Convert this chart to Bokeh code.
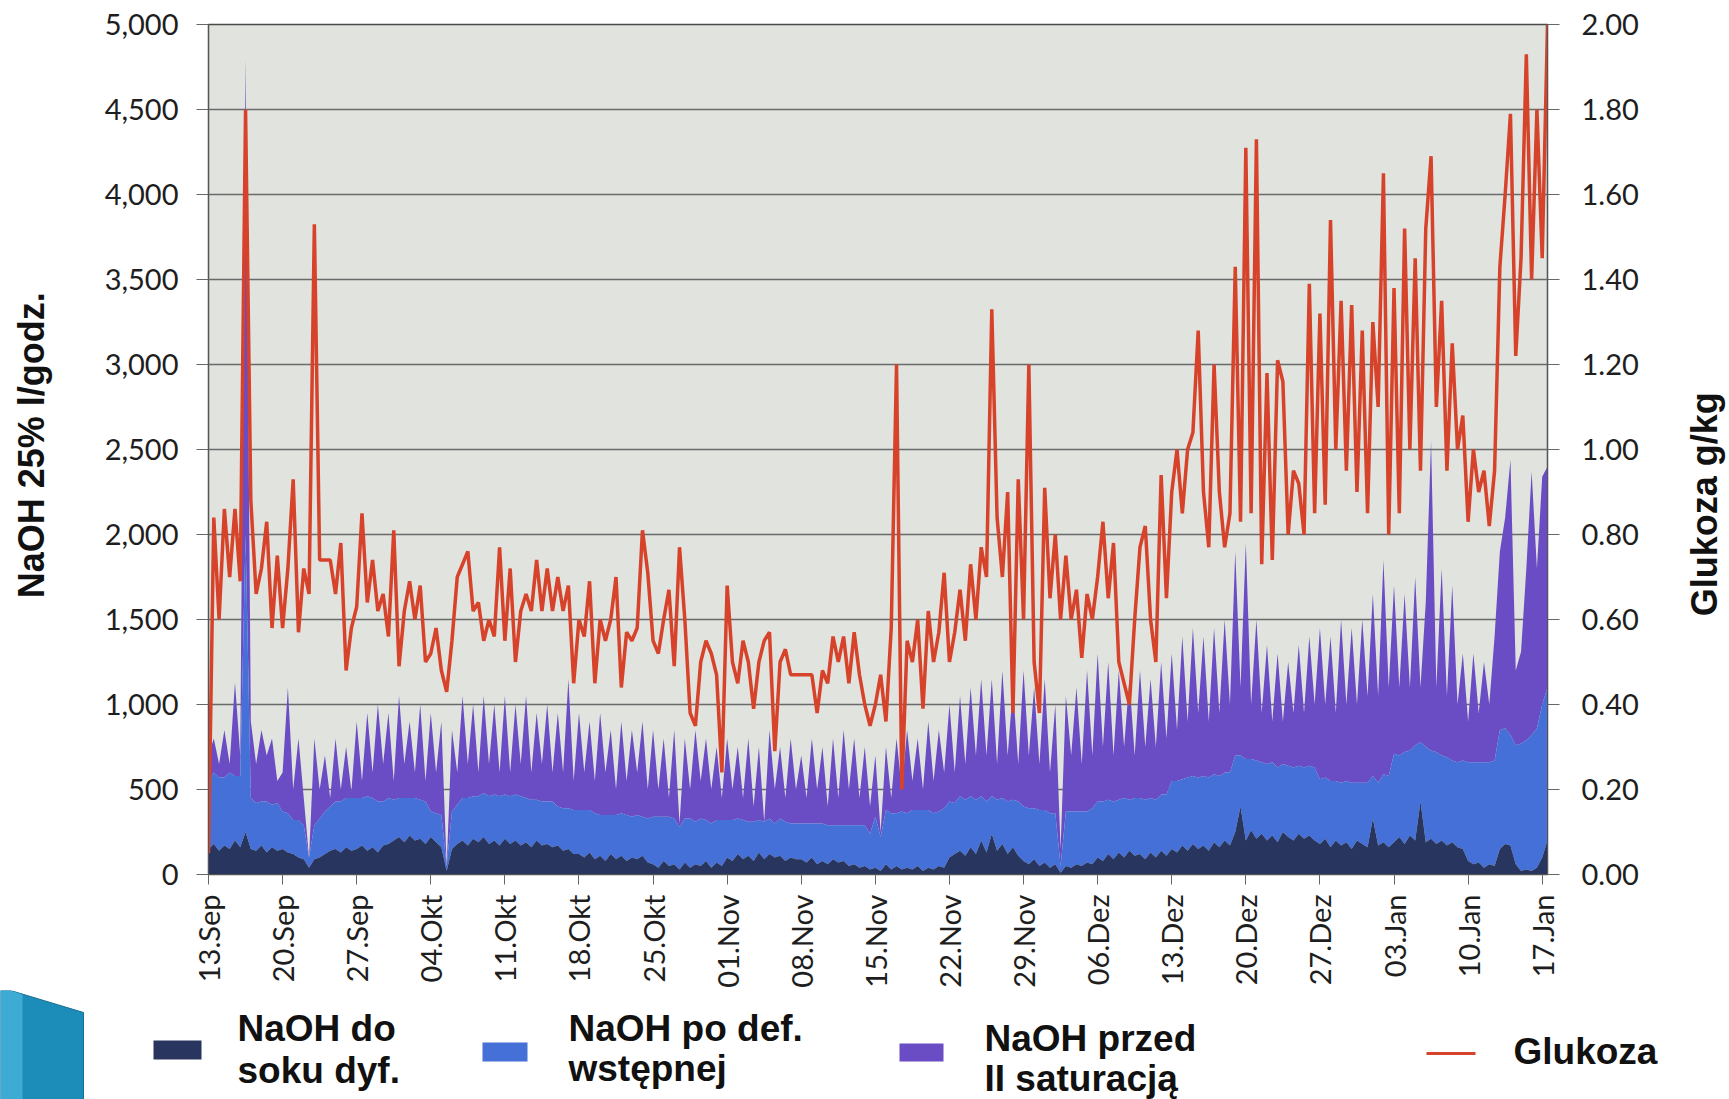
import numpy as np
from math import pi
from bokeh.plotting import figure
from bokeh.models import Range1d, LinearAxis, FixedTicker, NumeralTickFormatter
from bokeh.layouts import column, row
from bokeh.embed import file_html
from bokeh.resources import INLINE
from bokeh.core.properties import value

# ---------------- data (half-day samples starting 13.Sep) ----------------
tick_days = [0, 7, 14, 21, 28, 35, 42, 49, 56, 63, 70, 77, 84, 91, 98, 105, 112, 119, 126]
tick_labels = ["13.Sep", "20.Sep", "27.Sep", "04.Okt", "11.Okt", "18.Okt", "25.Okt",
               "01.Nov", "08.Nov", "15.Nov", "22.Nov", "29.Nov", "06.Dez", "13.Dez",
               "20.Dez", "27.Dez", "03.Jan", "10.Jan", "17.Jan"]

# Glukoza g/kg (right axis)
glukoza = [
    0.05, 0.84, 0.60, 0.86, 0.70, 0.86, 0.69, 1.80, 0.88, 0.66, 0.72, 0.83, 0.58, 0.75,
    0.58, 0.72, 0.93, 0.57, 0.72, 0.66, 1.53, 0.74, 0.74, 0.74, 0.66, 0.78, 0.48, 0.58,
    0.63, 0.85, 0.64, 0.74, 0.62, 0.66, 0.56, 0.81, 0.49, 0.62, 0.69, 0.60, 0.68, 0.50,
    0.52, 0.58, 0.48, 0.43, 0.55, 0.70, 0.73, 0.76, 0.62, 0.64, 0.55, 0.60, 0.56, 0.77,
    0.55, 0.72, 0.50, 0.62, 0.66, 0.62, 0.74, 0.62, 0.72, 0.62, 0.70, 0.62, 0.68, 0.45,
    0.60, 0.56, 0.69, 0.45, 0.60, 0.55, 0.60, 0.70, 0.44, 0.57, 0.55, 0.58, 0.81, 0.71,
    0.55, 0.52, 0.60, 0.67, 0.49, 0.77, 0.60, 0.38, 0.35, 0.50, 0.55, 0.52, 0.47, 0.24,
    0.68, 0.50, 0.45, 0.55, 0.50, 0.39, 0.50, 0.55, 0.57, 0.29, 0.50, 0.53, 0.47, 0.47,
    0.47, 0.47, 0.47, 0.38, 0.48, 0.45, 0.56, 0.50, 0.56, 0.45, 0.57, 0.47, 0.40, 0.35,
    0.40, 0.47, 0.36, 0.58, 1.20, 0.20, 0.55, 0.50, 0.60, 0.39, 0.62, 0.50, 0.57, 0.71,
    0.50, 0.57, 0.67, 0.55, 0.73, 0.60, 0.77, 0.70, 1.33, 0.84, 0.70, 0.90, 0.38, 0.93,
    0.60, 1.20, 0.50, 0.38, 0.91, 0.65, 0.80, 0.60, 0.75, 0.60, 0.67, 0.51, 0.66, 0.60,
    0.70, 0.83, 0.65, 0.78, 0.50, 0.45, 0.40, 0.60, 0.77, 0.82, 0.60, 0.50, 0.94, 0.65,
    0.90, 1.00, 0.85, 1.00, 1.04, 1.28, 0.90, 0.77, 1.20, 0.90, 0.77, 0.85, 1.43, 0.83,
    1.71, 0.85, 1.73, 0.73, 1.18, 0.74, 1.21, 1.16, 0.80, 0.95, 0.92, 0.80, 1.39, 0.85,
    1.32, 0.87, 1.54, 1.00, 1.35, 0.95, 1.34, 0.90, 1.28, 0.85, 1.30, 1.10, 1.65, 0.80,
    1.38, 0.85, 1.52, 1.00, 1.45, 0.95, 1.52, 1.69, 1.10, 1.35, 0.95, 1.25, 1.00, 1.08,
    0.83, 1.00, 0.90, 0.95, 0.82, 0.95, 1.43, 1.60, 1.79, 1.22, 1.45, 1.93, 1.40, 1.80,
    1.45, 2.00,
]

# NaOH do soku dyf. (l/godz.)
naoh_dyf = [
    150, 180, 140, 170, 150, 200, 160, 250, 150, 140, 170, 130, 160, 140,
    150, 130, 120, 100, 90, 40, 90, 100, 120, 140, 150, 130, 160, 140,
    150, 170, 140, 160, 130, 170, 180, 200, 220, 190, 230, 200, 210, 180,
    220, 190, 160, 20, 150, 180, 200, 170, 210, 190, 220, 180, 200, 170,
    210, 180, 200, 170, 190, 160, 200, 170, 180, 160, 170, 140, 150, 120,
    120, 100, 130, 90, 110, 80, 120, 90, 110, 80, 100, 90, 110, 70,
    60, 40, 80, 50, 60, 30, 70, 40, 60, 50, 80, 40, 70, 50,
    100, 80, 120, 90, 110, 80, 130, 90, 120, 100, 110, 80, 100, 90,
    90, 70, 100, 60, 80, 60, 90, 70, 80, 50, 60, 40, 50, 30,
    40, 20, 60, 30, 50, 30, 40, 30, 50, 20, 40, 30, 50, 40,
    100, 120, 140, 110, 160, 120, 200, 130, 240, 140, 180, 120, 160, 110,
    80, 60, 90, 50, 70, 40, 60, 10, 50, 40, 60, 50, 70, 60,
    100, 80, 120, 90, 130, 100, 140, 110, 120, 90, 130, 100, 140, 110,
    150, 130, 170, 140, 180, 150, 170, 140, 190, 160, 200, 170, 250, 400,
    200, 260, 210, 240, 200, 230, 190, 250, 220, 200, 240, 210, 230, 200,
    180, 210, 160, 200, 170, 190, 150, 200, 180, 160, 330, 170, 190, 160,
    190, 220, 180, 230, 200, 430, 190, 210, 180, 200, 170, 190, 160, 150,
    80, 60, 70, 40, 60, 50, 150, 180, 170, 60, 20, 30, 20, 40,
    100, 200,
]

# NaOH po def. wstępnej (l/godz.)
naoh_wst = [
    400, 420, 430, 400, 450, 380, 420, 1750, 300, 280, 260, 300, 250, 280,
    220, 230, 200, 220, 200, 60, 200, 230, 250, 260, 280, 300, 290, 310,
    300, 280, 320, 290, 300, 260, 270, 240, 230, 260, 220, 250, 230, 250,
    150, 170, 190, 30, 220, 230, 250, 280, 250, 270, 260, 280, 270, 290,
    260, 280, 270, 290, 260, 280, 240, 260, 250, 270, 230, 250, 240, 260,
    260, 280, 250, 270, 240, 270, 230, 260, 250, 270, 240, 260, 230, 260,
    280, 300, 260, 290, 270, 250, 260, 290, 250, 280, 240, 260, 250, 270,
    220, 240, 210, 230, 200, 230, 190, 220, 210, 200, 220, 230, 200, 210,
    210, 230, 200, 240, 220, 230, 200, 220, 210, 240, 230, 250, 240, 210,
    300, 200, 320, 330, 310, 340, 320, 350, 330, 360, 340, 330, 320, 350,
    330, 300, 320, 330, 300, 320, 260, 300, 220, 300, 270, 310, 280, 320,
    320, 330, 300, 330, 310, 320, 300, 40, 320, 330, 310, 320, 300, 330,
    330, 350, 320, 340, 310, 350, 300, 340, 330, 350, 320, 340, 330, 360,
    400, 420, 390, 430, 400, 420, 410, 430, 400, 420, 400, 430, 450, 300,
    480, 420, 460, 420, 450, 430, 440, 400, 420, 430, 400, 420, 410, 430,
    380, 360, 390, 350, 370, 360, 390, 340, 360, 380, 250, 370, 400, 420,
    520, 480, 540, 500, 560, 350, 560, 520, 540, 500, 520, 480, 500, 520,
    580, 600, 590, 620, 600, 620, 700, 680, 650, 700, 750, 760, 800, 820,
    900, 900,
]

# NaOH przed II saturacją (l/godz.)
naoh_sat = [
    150, 200, 80, 280, 50, 550, 120, 2800, 450, 230, 420, 270, 390, 130,
    230, 740, 180, 480, 160, 0, 510, 170, 330, 50, 370, 70, 300, 40,
    450, 100, 490, 150, 570, 220, 500, 110, 600, 200, 450, 150, 560, 120,
    580, 240, 550, 0, 480, 190, 600, 200, 540, 140, 570, 190, 530, 140,
    580, 140, 530, 190, 600, 160, 510, 220, 570, 170, 550, 210, 760, 170,
    570, 220, 520, 190, 600, 250, 500, 150, 540, 200, 510, 250, 560, 170,
    510, 160, 460, 110, 520, 20, 470, 170, 540, 220, 480, 200, 430, 130,
    480, 180, 420, 130, 490, 90, 430, 0, 520, 200, 420, 140, 500, 200,
    400, 150, 500, 200, 450, 110, 510, 160, 560, 210, 510, 160, 460, 160,
    360, 30, 370, 90, 440, 130, 490, 170, 420, 120, 520, 190, 480, 210,
    570, 180, 590, 210, 640, 260, 690, 270, 690, 210, 750, 270, 660, 220,
    800, 310, 710, 270, 770, 240, 640, 100, 680, 330, 730, 280, 830, 310,
    870, 320, 810, 270, 760, 300, 710, 250, 750, 310, 700, 310, 780, 330,
    750, 300, 840, 330, 870, 380, 820, 330, 860, 370, 900, 400, 1200, 400,
    1270, 320, 830, 290, 700, 240, 670, 250, 610, 320, 710, 320, 760, 370,
    890, 430, 850, 400, 960, 450, 910, 460, 960, 510, 1070, 510, 1260, 520,
    990, 400, 930, 370, 990, 320, 850, 1820, 380, 1100, 360, 1030, 340, 630,
    240, 640, 290, 590, 340, 730, 1050, 1240, 1620, 440, 540, 1010, 1550, 940,
    1340, 1300,
]

legend_lines = [("NaOH do", "soku dyf."), ("NaOH po def.", "wstępnej"),
                ("NaOH przed", "II saturacją"), ("Glukoza",)]
left_title = "NaOH 25% l/godz."
right_title = "Glukoza  g/kg"
left_ticks = [0, 500, 1000, 1500, 2000, 2500, 3000, 3500, 4000, 4500, 5000]
right_ticks = [0.0, 0.2, 0.4, 0.6, 0.8, 1.0, 1.2, 1.4, 1.6, 1.8, 2.0]

# ---------------- styling ----------------
C_DARK = "#28365f"
C_BLUE = "#4570d8"
C_PURPLE = "#6a4cc4"
C_RED = "#d6432a"
TICK_FONT = "Lato"
BOLD_FONT = "Liberation Sans"
MAIN_H = 990

day = np.arange(len(glukoza)) * 0.5
lvl1 = np.array(naoh_dyf, dtype=float)
lvl2 = lvl1 + np.array(naoh_wst, dtype=float)
lvl3 = lvl2 + np.array(naoh_sat, dtype=float)

p = figure(width=1610, height=MAIN_H, output_backend="svg", toolbar_location=None,
           x_range=Range1d(0, 126.5), y_range=Range1d(0, 5000),
           min_border_left=146, min_border_right=125, min_border_top=24, min_border_bottom=113)
p.extra_y_ranges = {"glu": Range1d(0, 2.0)}
p.background_fill_color = "#e1e3df"
p.border_fill_color = "white"
p.outline_line_color = "#4a4a4a"
p.outline_line_width = 1.5

p.varea(x=day, y1=lvl2, y2=lvl3, fill_color=C_PURPLE)
p.varea(x=day, y1=lvl1, y2=lvl2, fill_color=C_BLUE)
p.varea(x=day, y1=0, y2=lvl1, fill_color=C_DARK)
p.line(x=day, y=glukoza, y_range_name="glu", line_color=C_RED, line_width=3.5)

p.yaxis.ticker = FixedTicker(ticks=left_ticks)
p.yaxis.formatter = NumeralTickFormatter(format="0,0")
ra = LinearAxis(y_range_name="glu", ticker=FixedTicker(ticks=right_ticks),
                formatter=NumeralTickFormatter(format="0.00"))
p.add_layout(ra, "right")
p.xaxis.ticker = FixedTicker(ticks=tick_days)
p.xaxis.major_label_overrides = {d: l for d, l in zip(tick_days, tick_labels)}
p.xaxis.major_label_orientation = pi / 2

for ax in p.axis:
    ax.axis_line_color = "#555555"
    ax.major_tick_line_color = "#666666"
    ax.minor_tick_line_color = None
    ax.major_tick_in = 0
    ax.major_label_text_font = TICK_FONT
    ax.major_label_text_font_size = "29px"
    ax.major_label_text_color = "#1e1e1e"
p.yaxis[0].major_tick_out = 12
p.yaxis[0].major_label_standoff = 18
ra.major_tick_out = 12
ra.major_label_standoff = 22
p.xaxis.major_tick_out = 10
p.xaxis.major_label_standoff = 10

p.xgrid.visible = False
p.ygrid.ticker = FixedTicker(ticks=left_ticks)
p.ygrid.grid_line_color = "#6a6a6a"
p.ygrid.grid_line_width = 1.4


def title_strip(width, text, cx, cy, fs):
    f = figure(width=width, height=MAIN_H, output_backend="svg", toolbar_location=None,
               x_range=Range1d(0, width), y_range=Range1d(0, MAIN_H),
               x_axis_type=None, y_axis_type=None, min_border=0)
    f.grid.visible = False
    f.outline_line_color = None
    f.text(x=[cx], y=[MAIN_H - cy], text=[text], angle=pi / 2,
           text_font=value(BOLD_FONT), text_font_style="bold", text_font_size=f"{fs}px",
           text_color="#111111", text_align="center", text_baseline="middle")
    return f


left_strip = title_strip(62, left_title, 31, 490, 36)
right_strip = title_strip(57, right_title, 32, 553, 36)

# ---------------- legend strip ----------------
q = figure(width=1729, height=1099 - MAIN_H, output_backend="svg", toolbar_location=None,
           x_range=Range1d(0, 1729), y_range=Range1d(1099, MAIN_H),
           x_axis_type=None, y_axis_type=None, min_border=0)
q.grid.visible = False
q.outline_line_color = None
q.background_fill_color = "white"
q.border_fill_color = "white"

# slide decoration (teal chevron at bottom-left)
q.patch(x=[0, 10, 83, 83, 0], y=[990, 990, 1012, 1099, 1099], fill_color="#1c8cb8",
        line_color="#156f93", line_width=1)
q.patch(x=[0, 10, 22, 22, 0], y=[990, 990, 994, 1099, 1099], fill_color="#48b6dc",
        line_color=None, fill_alpha=0.75)

q.quad(left=[153, 482, 899], right=[201, 527, 943], top=[1040, 1042, 1043],
       bottom=[1059, 1061, 1061], fill_color=[C_DARK, C_BLUE, C_PURPLE], line_color=None)
q.line(x=[1426, 1475], y=[1053, 1053], line_color=C_RED, line_width=3)

txt_x = [237, 237, 568, 568, 984, 984, 1513]
txt_y = [1028, 1070, 1028, 1068, 1038, 1078, 1051]
txt = [legend_lines[0][0], legend_lines[0][1], legend_lines[1][0], legend_lines[1][1],
       legend_lines[2][0], legend_lines[2][1], legend_lines[3][0]]
q.text(x=txt_x, y=txt_y, text=txt, text_font=value(BOLD_FONT), text_font_style="bold",
       text_font_size="37px", text_color="#111111", text_baseline="alphabetic",
       text_align="left")

layout = column(row(left_strip, p, right_strip, spacing=0), q, spacing=0)
open("out.html", "w").write(file_html(layout, INLINE))
